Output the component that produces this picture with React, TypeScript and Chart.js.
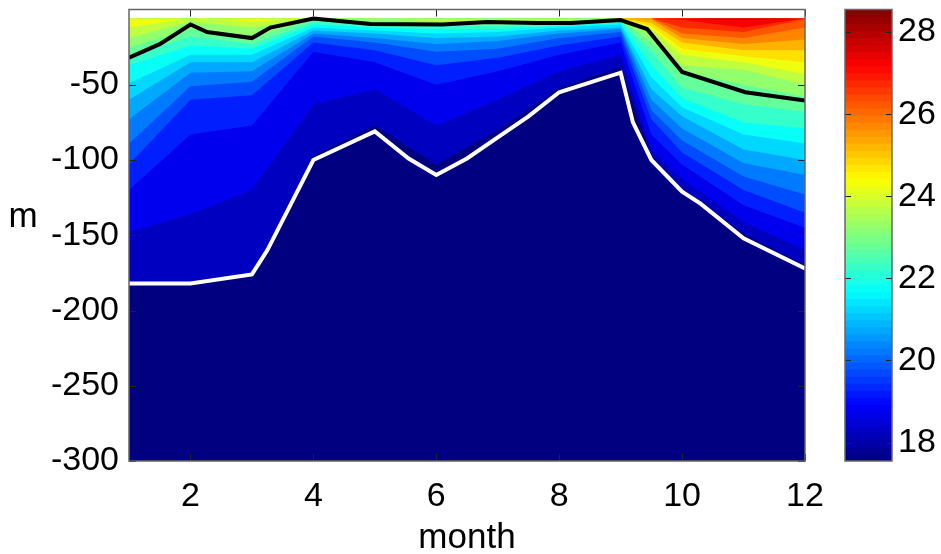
import React, { useEffect, useRef } from "react";
import { Chart, registerables } from "chart.js";

Chart.register(...registerables);

const FONT = "Liberation Sans, Arial, sans-serif";
const FONT_SIZE = 34;

const months = [1, 2, 3, 4, 5, 6, 7, 8, 9, 9.5, 10, 11, 12];
const floorDepth = [-300, -300, -300, -300, -300, -300, -300, -300, -300, -300, -300, -300, -300];
const surface = -6;

const iso18 = [-182, -182, -176, -97, -77, -103, -80, -52, -38, -97, -119, -149, -170];
const iso18_5 = [-148, -136, -120, -63, -53, -77, -60, -41, -30, -93, -113, -141, -160];
const iso19 = [-120, -83, -77, -28, -35, -50, -41, -30, -22, -83, -103, -130, -145];
const iso19_5 = [-103, -60, -57, -22, -27, -37, -32, -24, -18, -73, -95, -120, -135];
const iso20 = [-89, -51, -48, -18, -22, -28, -26, -19, -15, -67, -87, -111, -123];
const iso20_5 = [-73, -42, -41, -16, -19, -23, -21, -16, -13, -60, -79, -102, -110];
const iso21 = [-60, -35, -35, -14, -16, -19, -18, -14, -12, -53, -71, -93, -100];
const iso21_5 = [-49, -30, -30, -12, -14, -16, -15, -12, -10, -45, -65, -83, -89];
const iso22 = [-37, -24, -26, -10, -12, -13, -13, -11, -9, -37, -59, -75, -79];
const iso22_5 = [-31, -18, -23, -8, -10, -11, -11, -10, -8, -28, -52, -63, -68];
const iso23 = [-25, -13, -19, -6, -8, -9, -9, -8, -7, -22, -41, -50, -58];
const iso23_5 = [-19, -8, -12, -6, -6.6, -7.6, -7.6, -7.3, -6.6, -16, -37, -40, -50];
const iso24 = [-12, -6, -8, -6, -6, -6, -6, -6, -6, -13, -30, -35, -43];
const iso24_5 = [-6, -6, -6, -6, -6, -6, -6, -6, -6, -11, -26, -31, -35];
const iso25 = [-6, -6, -6, -6, -6, -6, -6, -6, -6, -9, -22, -27, -27];
const iso25_5 = [-6, -6, -6, -6, -6, -6, -6, -6, -6, -6.6, -19, -23, -20];
const iso26 = [-6, -6, -6, -6, -6, -6, -6, -6, -6, -6, -16, -19, -12];
const iso26_5 = [-6, -6, -6, -6, -6, -6, -6, -6, -6, -6, -12, -15, -6.3];
const iso27 = [-6, -6, -6, -6, -6, -6, -6, -6, -6, -6, -7, -12, -6];
const iso27_5 = [-6, -6, -6, -6, -6, -6, -6, -6, -6, -6, -6, -7, -6];

const isothermTemps = [18, 18.5, 19, 19.5, 20, 20.5, 21, 21.5, 22, 22.5, 23, 23.5, 24, 24.5, 25, 25.5, 26, 26.5, 27, 27.5];
const isotherms = [iso18, iso18_5, iso19, iso19_5, iso20, iso20_5, iso21, iso21_5, iso22, iso22_5, iso23, iso23_5, iso24, iso24_5, iso25, iso25_5, iso26, iso26_5, iso27, iso27_5];

const whiteMonths = [1, 2, 3, 3.25, 4, 5, 5.55, 6, 6.5, 7, 7.5, 8, 9, 9.2, 9.5, 10, 10.3, 11, 12];
const whiteDepth = [-182, -182, -176, -160, -100, -81, -99, -110, -99, -85, -71, -55, -42, -75, -100, -121, -129, -152, -172];

const blackMonths = [1, 1.5, 2, 2.27, 3, 3.3, 4, 4.93, 6.1, 6.83, 7.64, 8.2, 8.8, 9, 9.43, 9.85, 10, 11.03, 12];
const blackDepth = [-32, -23, -10, -15, -19, -12, -6, -9.6, -10, -8.3, -9, -9, -7.5, -7, -13, -34, -41.5, -55, -60.5];

const xTicks = [2, 4, 6, 8, 10, 12];
const yTicks = [-300, -250, -200, -150, -100, -50];
const colorTicks = [18, 20, 22, 24, 26, 28];
const colorMin = 17.55;
const colorMax = 28.55;
const colorBands = 64;

function jet(t: number) {
  const f = Math.min(1, Math.max(0, (t - colorMin) / (colorMax - colorMin)));
  const c = (v: number) => Math.round(255 * Math.min(1, Math.max(0, 1.5 - Math.abs(4 * f - v))));
  return `rgb(${c(3)},${c(2)},${c(1)})`;
}

const pairs = (xs: number[], ys: number[]) => xs.map((x, i) => ({ x, y: ys[i] }));

function boxPlugin(sides: { x: number[] | null; y: number[]; len: number; yLabel?: boolean }) {
  return {
    id: "box",
    afterDatasetsDraw(chart: any) {
      const { ctx, chartArea: a, scales } = chart;
      ctx.save();
      ctx.strokeStyle = "#222";
      ctx.lineWidth = 1;
      const line = (x0: number, y0: number, x1: number, y1: number) => {
        ctx.beginPath();
        ctx.moveTo(x0, y0);
        ctx.lineTo(x1, y1);
        ctx.stroke();
      };
      (sides.x || []).forEach((v) => {
        const p = Math.round(scales.x.getPixelForValue(v)) + 0.5;
        line(p, a.bottom, p, a.bottom - sides.len);
        line(p, a.top, p, a.top + sides.len);
      });
      sides.y.forEach((v) => {
        const p = Math.round(scales.y.getPixelForValue(v)) + 0.5;
        line(a.left, p, a.left + sides.len, p);
        line(a.right, p, a.right - sides.len, p);
      });
      ctx.strokeStyle = "#666";
      ctx.lineWidth = 1.5;
      ctx.strokeRect(a.left, a.top, a.right - a.left, a.bottom - a.top);
      if (sides.yLabel) {
        ctx.fillStyle = "#000";
        ctx.font = `35px ${FONT}`;
        ctx.textAlign = "center";
        ctx.textBaseline = "middle";
        ctx.fillText("m", 23, 217);
      }
      ctx.restore();
    },
  };
}

export default function App() {
  const mainRef = useRef<HTMLCanvasElement>(null);
  const barRef = useRef<HTMLCanvasElement>(null);

  useEffect(() => {
    const fills = isotherms
      .map((d, i) => ({
        type: "line",
        data: pairs(months, d),
        borderWidth: 0,
        pointRadius: 0,
        tension: 0,
        backgroundColor: jet(isothermTemps[i] + 0.25),
        fill: { value: surface },
      }))
      .reverse();

    const main = new Chart(mainRef.current!, {
      type: "line",
      data: {
        datasets: [
          { data: pairs(blackMonths, blackDepth), borderColor: "#000", borderWidth: 4, pointRadius: 0, tension: 0, fill: false },
          { data: pairs(whiteMonths, whiteDepth), borderColor: "#fff", borderWidth: 4, pointRadius: 0, tension: 0, fill: false },
          ...fills,
          { data: pairs(months, floorDepth), borderWidth: 0, pointRadius: 0, backgroundColor: jet(colorMin), fill: { value: surface } },
        ] as any,
      },
      options: {
        animation: false,
        responsive: false,
        layout: { padding: { top: 9.5, right: 25, left: 0, bottom: 0 } },
        plugins: { legend: { display: false }, tooltip: { enabled: false } },
        scales: {
          x: {
            type: "linear",
            min: 1,
            max: 12,
            grid: { display: false, drawTicks: false },
            border: { display: false },
            afterBuildTicks: (s: any) => { s.ticks = xTicks.map((value) => ({ value })); },
            afterFit: (s: any) => { s.height = 93; s.paddingLeft = 0; s.paddingRight = 0; },
            ticks: { color: "#000", font: { family: FONT, size: FONT_SIZE }, padding: 15, maxRotation: 0, autoSkip: false, callback: (v: any) => String(v) },
            title: { display: true, text: "month", color: "#000", font: { family: FONT, size: 35 }, padding: { top: 0, bottom: -5 } },
          },
          y: {
            type: "linear",
            min: -300,
            max: 0,
            grid: { display: false, drawTicks: false },
            border: { display: false },
            afterBuildTicks: (s: any) => { s.ticks = yTicks.map((value) => ({ value })); },
            afterFit: (s: any) => { s.width = 129; s.paddingTop = 0; s.paddingBottom = 0; },
            ticks: { color: "#000", font: { family: FONT, size: FONT_SIZE }, padding: 10, autoSkip: false, callback: (v: any) => String(v) },
          },
        },
      } as any,
      plugins: [boxPlugin({ x: xTicks, y: yTicks, len: 7, yLabel: true })],
    });

    const bandDatasets: any[] = [];
    for (let i = colorBands - 1; i >= 0; i--) {
      const lo = colorMin + ((colorMax - colorMin) * i) / colorBands;
      bandDatasets.push({
        data: [[lo, colorMax]],
        backgroundColor: jet(lo + (colorMax - colorMin) / colorBands / 2),
        borderWidth: 0,
        grouped: false,
        barPercentage: 1,
        categoryPercentage: 1,
      });
    }

    const bar = new Chart(barRef.current!, {
      type: "bar",
      data: { labels: [""], datasets: bandDatasets },
      options: {
        animation: false,
        responsive: false,
        layout: { padding: { top: 9.5, left: 15, right: 0, bottom: 93 } },
        plugins: { legend: { display: false }, tooltip: { enabled: false } },
        scales: {
          x: { display: false },
          y: {
            type: "linear",
            position: "right",
            min: colorMin,
            max: colorMax,
            grid: { display: false, drawTicks: false },
            border: { display: false },
            afterBuildTicks: (s: any) => { s.ticks = colorTicks.map((value) => ({ value })); },
            afterFit: (s: any) => { s.width = 49; s.paddingTop = 0; s.paddingBottom = 0; },
            ticks: { color: "#000", font: { family: FONT, size: FONT_SIZE }, padding: 6, autoSkip: false, callback: (v: any) => String(v) },
          },
        },
      } as any,
      plugins: [boxPlugin({ x: null, y: colorTicks, len: 6 })],
    });

    return () => {
      main.destroy();
      bar.destroy();
    };
  }, []);

  return (
    <div>
      <canvas ref={mainRef} width={830} height={554} style={{ position: "fixed", left: 0, top: 0 }} />
      <canvas ref={barRef} width={111} height={554} style={{ position: "fixed", left: 830, top: 0 }} />
    </div>
  );
}
